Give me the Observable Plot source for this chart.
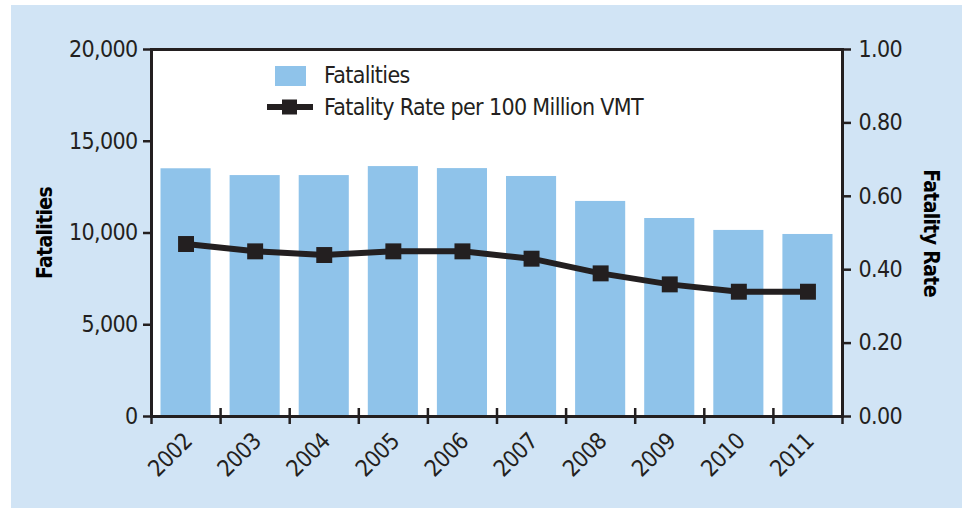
<!DOCTYPE html>
<html>
<head>
<meta charset="utf-8">
<script src="https://cdn.jsdelivr.net/npm/d3@7"></script>
<script src="https://cdn.jsdelivr.net/npm/@observablehq/plot@0.6"></script>
<style>
  html, body { margin: 0; padding: 0; background: #ffffff; }
  #wrap { position: relative; width: 964px; height: 508px; overflow: hidden; }
  #panel { position: absolute; left: 11px; top: 5px; width: 951px; height: 503px; background: #d1e4f5; }
  #chart { position: absolute; left: 0; top: 0; }
  #legend { position: absolute; left: 0; top: 0; font-family: "DejaVu Sans Condensed", "Liberation Sans Narrow", "Liberation Sans", sans-serif; font-size: 23px; letter-spacing: -0.65px; color: #231f20; }
  .item { position: absolute; white-space: nowrap; line-height: 1; }
</style>
</head>
<body>
<div id="wrap">
  <div id="panel"></div>
  <div id="chart"></div>
  <div id="legend"></div>
</div>
<script>
const years = [2002, 2003, 2004, 2005, 2006, 2007, 2008, 2009, 2010, 2011];
const fatalities = [13500, 13130, 13130, 13620, 13510, 13080, 11720, 10790, 10140, 9920];
const rates = [0.47, 0.45, 0.44, 0.45, 0.45, 0.43, 0.39, 0.36, 0.34, 0.34];
const leftTicks = [0, 5000, 10000, 15000, 20000];
const rightTicks = [0, 0.2, 0.4, 0.6, 0.8, 1.0];
const yMax = 20000;
const rateMax = 1.0;
const seriesNames = ["Fatalities", "Fatality Rate per 100 Million VMT"];
const axisTitles = ["Fatalities", "Fatality Rate"];

const barColor = "#8fc3ea";
const ink = "#231f20";
const font = `"DejaVu Sans Condensed", "Liberation Sans Narrow", "Liberation Sans", sans-serif`;

const data = years.map((year, i) => ({year, fatalities: fatalities[i], rate: rates[i]}));
const edges = d3.range(years.length + 1).map(i => years[0] - 0.5 + i);
const toY = r => r * yMax / rateMax;

const chart = Plot.plot({
  width: 964,
  height: 508,
  marginLeft: 151,
  marginRight: 122,
  marginTop: 49,
  marginBottom: 92,
  style: {background: "transparent", fontFamily: font, color: ink, overflow: "visible", letterSpacing: "-0.65px"},
  x: {domain: [edges[0], edges[edges.length - 1]]},
  y: {domain: [0, yMax]},
  marks: [
    Plot.frame({fill: "white", stroke: null}),
    Plot.rectY(data, {x1: d => d.year - 0.5, x2: d => d.year + 0.5, y: "fatalities", fill: barColor, insetLeft: 9.5, insetRight: 9.5}),
    Plot.line(data, {x: "year", y: d => toY(d.rate), stroke: ink, strokeWidth: 6}),
    Plot.dot(data, {x: "year", y: d => toY(d.rate), symbol: "square", r: 9, fill: ink, stroke: null}),
    Plot.frame({stroke: ink, strokeWidth: 3}),
    Plot.axisY(leftTicks, {anchor: "left", tickSize: 8, tickPadding: 6, tickFormat: d3.format(","), fontSize: 23, stroke: ink, strokeWidth: 2.5, fill: ink, label: null}),
    Plot.axisY(rightTicks.map(toY), {anchor: "right", tickSize: 8, tickPadding: 8, tickFormat: d => (d / yMax * rateMax).toFixed(2), fontSize: 23, stroke: ink, strokeWidth: 2.5, fill: ink, label: null}),
    Plot.ruleX(edges, {x: d => d, y1: 0, y2: 0, insetTop: -8, insetBottom: -8, stroke: ink, strokeWidth: 2.5}),
    Plot.axisX(years, {anchor: "bottom", tickSize: 0, tickPadding: 21, dx: 2, tickRotate: -45, tickFormat: d => String(d), fontSize: 23, fill: ink, label: null}),
    Plot.text([axisTitles[0]], {frameAnchor: "left", dx: -106, rotate: -90, textAnchor: "middle", fontWeight: "bold", fontSize: 21, fill: "black"}),
    Plot.text([axisTitles[1]], {frameAnchor: "right", dx: 88, rotate: 90, textAnchor: "middle", fontWeight: "bold", fontSize: 21, fill: "black"})
  ]
});
document.getElementById("chart").appendChild(chart);

// Legend
const legend = document.getElementById("legend");
legend.innerHTML = `
  <div style="position:absolute;left:275px;top:66px;width:31px;height:20px;background:${barColor}"></div>
  <div class="item" style="left:324px;top:64px;">${seriesNames[0]}</div>
  <svg style="position:absolute;left:265px;top:98px" width="50" height="18">
    <line x1="2" y1="9" x2="48" y2="9" stroke="${ink}" stroke-width="6"/>
    <rect x="17" y="1.5" width="15" height="15" fill="${ink}"/>
  </svg>
  <div class="item" style="left:324px;top:96px;">${seriesNames[1]}</div>
`;
</script>
</body>
</html>
